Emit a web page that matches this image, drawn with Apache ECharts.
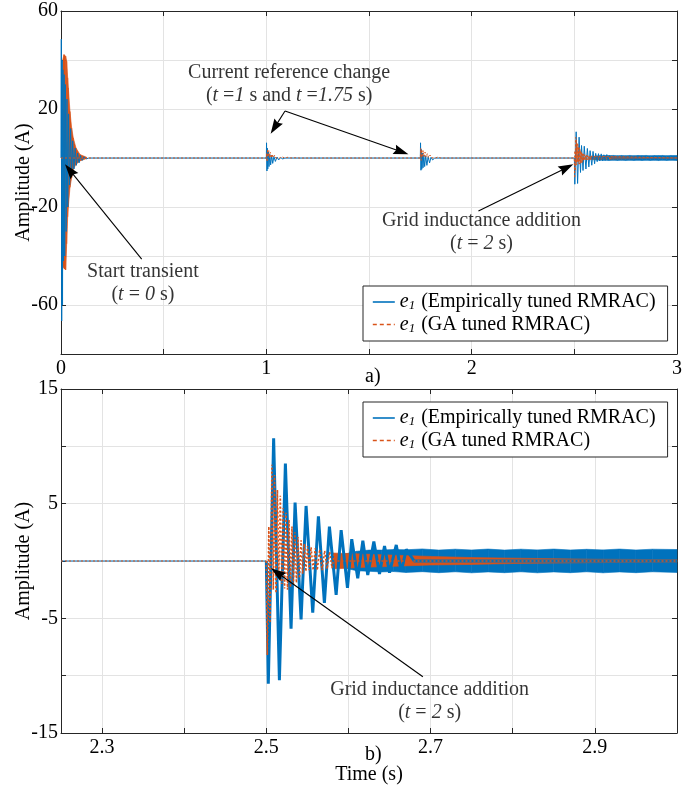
<!DOCTYPE html>
<html>
<head>
<meta charset="utf-8">
<script src="https://cdn.jsdelivr.net/npm/echarts@6/dist/echarts.min.js"></script>
<style>
  html, body { margin: 0; padding: 0; background: #fff; }
  #chart { width: 697px; height: 789px; }
</style>
</head>
<body>
<div id="chart"></div>
<script>
// ---- values: time (s), amplitude (A) ----
const NAME_B = 'e1 (Empirically tuned RMRAC)';
const NAME_O = 'e1 (GA tuned RMRAC)';

// start transient (t = 0)
const startBlue = [[0,0],[0.0015,48.5],[0.0035,-66.5],[0.0055,40],[0.0075,-60],[0.0095,36],[0.012,-42],[0.015,34],
  [0.018,-40],[0.021,30],[0.025,-30],[0.029,24],[0.033,-20],[0.037,18],[0.042,-11],[0.047,12],[0.052,-7],[0.057,7],
  [0.063,-4.5],[0.069,4],[0.075,-3],[0.081,2],[0.088,-2],[0.095,1],[0.103,-1],[0.112,0.5],[0.122,-0.4],[0.135,0]];
// dense orange burst: [t, lower envelope, upper envelope]
const startOrangeEnv = [[0.0083,-44,40],[0.0146,-45,42.2],[0.0227,-45.7,41.5],[0.0276,-35,39.5],[0.0325,-24,32.7],
  [0.0357,-20,28.6],[0.0438,-12,19],[0.052,-8,12.2],[0.060,-4.6,8.2],[0.073,-2.6,4.1],[0.0925,-1.2,1.4],[0.125,-0.2,0.3]];

// reference change at t = 1 s
const step1Blue = [[1,0],[1.001,6.2],[1.003,-5.3],[1.005,4],[1.007,-4.5],[1.010,2.5],[1.013,-3.5],[1.017,1.5],[1.021,-2.8],
  [1.026,1],[1.031,-2.2],[1.037,0.6],[1.044,-1.4],[1.052,0.4],[1.06,-0.8],[1.07,0.2],[1.08,-0.4],[1.09,0]];
const step1Orange = [[1,0],[1.002,2],[1.004,-1.5],[1.006,3.6],[1.009,0.5],[1.012,3],[1.015,0.2],[1.019,2.3],[1.023,0],
  [1.028,1.6],[1.033,0.1],[1.04,1.2],[1.047,0],[1.056,0.8],[1.065,0],[1.075,0.5],[1.09,0],[1.105,0.3],[1.12,0],[1.14,0.1],[1.16,0]];

// reference change at t = 1.75 s
const step2Blue = [[1.75,0],[1.751,6.2],[1.753,-5],[1.755,3.5],[1.757,-4.6],[1.76,2],[1.763,-4],[1.767,1.2],[1.771,-3.5],
  [1.776,0.8],[1.782,-3],[1.788,0.5],[1.795,-2],[1.802,0.3],[1.81,-0.8],[1.82,0]];
const step2Orange = [[1.75,0],[1.752,4],[1.754,-1],[1.757,3.5],[1.76,0.3],[1.764,3],[1.768,0.5],[1.773,2.4],[1.778,0.3],
  [1.784,1.8],[1.79,0.2],[1.797,1.2],[1.805,0.1],[1.814,0.8],[1.824,0],[1.835,0.4],[1.85,0]];

// grid inductance addition (shown at t = 2.5 on the time axis)
const gridFlat = [[2.25,0],[2.5,0]];
const gridBlue = [[2.5,0],[2.5024,-10.7],[2.5089,10.7],[2.5159,-10.4],[2.5232,8.5],[2.5301,-5.9],[2.535,5.1],
  [2.5423,-5.1],[2.5484,4.8],[2.5565,-4.5],[2.5634,3.9],[2.5707,-3.65],[2.5768,3.0],[2.585,-2.95],[2.5911,2.7],
  [2.5988,-2.35],[2.604,1.9],[2.6113,-1.5],[2.6175,1.77],[2.6235,-1.22],[2.6309,1.69],[2.6378,-1.13],[2.6439,1.31],
  [2.65,-1.02],[2.6582,1.4],[2.6642,-0.93],[2.6704,1.02],[2.68,0],[3.0,0]];
const gridBlueBand = [[2.595,-0.6,0.6],[2.61,-0.85,0.85],[2.625,-0.9,0.95],[2.64,-0.95,0.95],[2.655,-0.92,1.0],
  [2.67,-1.0,0.98],[2.69,-0.93,1.05],[2.71,-1.02,0.95],[2.73,-0.94,1.03],[2.75,-1.03,0.96],[2.77,-0.95,1.04],
  [2.79,-1.02,0.95],[2.81,-0.94,1.03],[2.83,-1.03,0.97],[2.85,-0.95,1.04],[2.87,-1.02,0.96],[2.89,-0.94,1.02],
  [2.91,-1.03,0.97],[2.93,-0.95,1.04],[2.95,-1.02,0.96],[2.97,-0.94,1.03],[3.0,-1.0,1.0]];
const gridOrange = [[2.5,0],[2.5012,-8.2],[2.503,3.0],[2.5045,-5.4],[2.5068,8.4],[2.5085,-2.5],[2.51,7.5],
  [2.5118,-2.8],[2.5135,6.2],[2.5152,-1.5],[2.517,5.7],[2.5188,-2.0],[2.5205,4.6],[2.5222,-2.4],[2.524,4.2],
  [2.5258,-2.5],[2.5276,3.6],[2.5294,-2.3],[2.5312,3.0],[2.533,-2.0],[2.5348,2.5],[2.5366,-1.9],[2.5385,2.1],
  [2.5404,-1.5],[2.5423,1.8],[2.5442,-1.1],[2.5462,1.5],[2.5482,-0.9],[2.5502,1.3],[2.5522,-0.8],[2.5545,1.2],
  [2.557,-0.8],[2.5595,1.1],[2.562,-0.8],[2.565,1.0],[2.568,-0.8],[2.571,0.9],[2.574,-0.7],[2.577,0.8],[2.58,-0.6],
  [2.583,0.7],[2.586,0],[3.0,0]];
const gridOrangeBand = [[2.58,-0.7,0.7],[2.62,-0.55,0.6],[2.66,-0.45,0.5],[2.70,-0.35,0.4],[2.75,-0.3,0.3],
  [2.80,-0.22,0.25],[2.85,-0.18,0.2],[2.90,-0.14,0.15],[3.0,-0.1,0.12]];

// axes
const xLabelsA = [0, 1, 2, 3];
const yLabelsA = [60, 20, -20, -60];
const xTicksB = [2.3, 2.4, 2.5, 2.6, 2.7, 2.8, 2.9];
const xLabelsB = [2.3, 2.5, 2.7, 2.9];
const yLabelsB = [15, 5, -5, -15];

// annotations: text anchor (t, A) with rich text, arrows [from, tip]
const notesA = [
  [[0.399, -51.2], '{n|Start transient}\n{n|(}{i|t}{n| = }{i|0}{n| s)}'],
  [[1.111, 30.2], '{n|Current reference change}\n{n|(}{i|t}{n| =}{i|1}{n| s and }{i|t}{n| =}{i|1.75}{n| s)}'],
  [[2.048, -30.2], '{n|Grid inductance addition}\n{n|(}{i|t}{n| = }{i|2}{n| s)}']
];
const arrowsA = [
  [0.393, -41.3, 0.0195, -2.6],
  [1.091, 19.2, 1.021, 9.9],
  [1.091, 19.2, 1.692, 1.5],
  [2.033, -21.6, 2.495, -2.6]
];
const notesB = [
  [[2.6988, -12.2], '{n|Grid inductance addition}\n{n|(}{i|t}{n| = }{i|2}{n| s)}']
];
const arrowsB = [
  [2.6906, -10.1, 2.5057, -0.64]
];

// ---- styling ----
const BLUE = '#0072BD', ORANGE = '#D95319', AX = '#262626', INK = '#000', GRIDC = '#e3e3e3';
const FONT = 'Liberation Serif';
const richText = {
  n: { fontFamily: FONT, fontSize: 20, color: INK, lineHeight: 23 },
  i: { fontFamily: FONT, fontSize: 20, color: INK, lineHeight: 23, fontStyle: 'italic' }
};

function pick(list) {
  return v => (list.some(x => Math.abs(x - v) < 1e-9) ? String(v) : '');
}

function axis(kind, gi, pos, o) {
  const main = pos === 'bottom' || pos === 'left';
  return Object.assign({
    type: 'value', gridIndex: gi, position: pos,
    axisLine: { show: true, onZero: false, lineStyle: { color: AX, width: 1 } },
    axisTick: { show: true, inside: true, length: 5, lineStyle: { color: AX } },
    axisLabel: { show: main, fontFamily: FONT, fontSize: 20, color: INK, margin: kind === 'x' ? 5 : 3 },
    splitLine: { show: main, lineStyle: { color: GRIDC, width: 1 } }
  }, o);
}

function bandItems(env) {
  const out = [];
  for (let i = 0; i < env.length - 1; i++) out.push(env[i].concat(env[i + 1]));
  return out;
}

function band(name, env, color, ai) {
  return {
    type: 'custom', name: name, xAxisIndex: ai, yAxisIndex: ai, silent: true, animation: false,
    data: bandItems(env), encode: { x: [0, 3], y: [1, 2, 4, 5] },
    renderItem: (params, api) => {
      const a = api.coord([api.value(0), api.value(2)]);
      const b = api.coord([api.value(3), api.value(5)]);
      const c = api.coord([api.value(3), api.value(4)]);
      const d = api.coord([api.value(0), api.value(1)]);
      return { type: 'polygon', shape: { points: [a, b, c, d] },
        style: { fill: color, stroke: color, lineWidth: 0.6 } };
    }
  };
}

function line(name, data, color, width, dash, ai) {
  return {
    type: 'line', name: name, xAxisIndex: ai, yAxisIndex: ai, data: data,
    showSymbol: false, symbol: 'none', silent: true, animation: false,
    lineStyle: { color: color, width: width, type: dash || 'solid' }, itemStyle: { color: color }
  };
}

function notes(list, ai) {
  return {
    type: 'scatter', xAxisIndex: ai, yAxisIndex: ai, symbolSize: 0, silent: true, animation: false, z: 5,
    data: list.map(n => ({ value: n[0], label: { formatter: n[1] } })),
    label: { show: true, position: 'inside', rich: richText }
  };
}

function arrows(list, ai) {
  return {
    type: 'custom', xAxisIndex: ai, yAxisIndex: ai, silent: true, animation: false, z: 5,
    data: list, encode: { x: [0, 2], y: [1, 3] },
    renderItem: (params, api) => {
      const p = api.coord([api.value(0), api.value(1)]);
      const q = api.coord([api.value(2), api.value(3)]);
      const dx = q[0] - p[0], dy = q[1] - p[1], len = Math.hypot(dx, dy);
      const ux = dx / len, uy = dy / len, hl = 15, hw = 5;
      const bx = q[0] - ux * hl, by = q[1] - uy * hl;
      return { type: 'group', children: [
        { type: 'line', shape: { x1: p[0], y1: p[1], x2: bx + ux * 3, y2: by + uy * 3 }, style: { stroke: '#000', lineWidth: 1.1 } },
        { type: 'polygon', shape: { points: [q, [bx - uy * hw, by + ux * hw], [bx + ux * 2, by + uy * 2], [bx + uy * hw, by - ux * hw]] },
          style: { fill: '#000' } }
      ] };
    }
  };
}

function legend(top) {
  return {
    orient: 'vertical', left: 363, top: top, selectedMode: false,
    data: [NAME_B, { name: NAME_O, lineStyle: { type: [4, 3] } }],
    itemWidth: 22, itemHeight: 12, itemGap: 2, padding: [6, 12, 6, 9],
    borderColor: AX, borderWidth: 1, backgroundColor: '#fff',
    itemStyle: { opacity: 0 }, lineStyle: { width: 1.6 },
    formatter: name => name.replace('e1', '{e|e}{s|1}'),
    textStyle: {
      fontFamily: FONT, fontSize: 20, color: INK,
      rich: {
        e: { fontFamily: FONT, fontSize: 20, fontStyle: 'italic', color: INK },
        s: { fontFamily: FONT, fontSize: 13, fontStyle: 'italic', color: INK, verticalAlign: 'bottom', padding: [8, 1, 0, 0] }
      }
    }
  };
}

const chart = echarts.init(document.getElementById('chart'), null, { renderer: 'canvas' });

chart.setOption({
  animation: false,
  textStyle: { fontFamily: FONT },
  title: [
    { text: 'a)', left: 360, top: 362, textStyle: { fontFamily: FONT, fontSize: 20, fontWeight: 'normal', color: INK } },
    { text: 'b)', left: 360, top: 740, textStyle: { fontFamily: FONT, fontSize: 20, fontWeight: 'normal', color: INK } }
  ],
  legend: [legend(286), legend(402)],
  grid: [
    { left: 61, top: 11, width: 616, height: 343, outerBoundsMode: 'none' },
    { left: 61, top: 389, width: 616, height: 344, outerBoundsMode: 'none' }
  ],
  xAxis: [
    axis('x', 0, 'bottom', { min: 0, max: 3, interval: 0.5,
      axisLabel: { show: true, fontFamily: FONT, fontSize: 20, color: INK, margin: 5, formatter: pick(xLabelsA) } }),
    axis('x', 0, 'top', { min: 0, max: 3, interval: 0.5 }),
    axis('x', 1, 'bottom', {
      min: 2.25, max: 3,
      axisTick: { show: true, inside: true, length: 5, lineStyle: { color: AX }, customValues: xTicksB },
      axisLabel: { show: true, fontFamily: FONT, fontSize: 20, color: INK, margin: 5, customValues: xLabelsB },
      name: 'Time (s)', nameLocation: 'middle', nameGap: 32, nameMoveOverlap: false,
      nameTextStyle: { fontFamily: FONT, fontSize: 20, color: INK }
    }),
    axis('x', 1, 'top', {
      min: 2.25, max: 3,
      axisTick: { show: true, inside: true, length: 5, lineStyle: { color: AX }, customValues: xTicksB }
    })
  ],
  yAxis: [
    axis('y', 0, 'left', {
      min: -80, max: 60, interval: 20,
      axisLabel: { show: true, fontFamily: FONT, fontSize: 20, color: INK, margin: 3, formatter: pick(yLabelsA) },
      name: 'Amplitude (A)', nameLocation: 'middle', nameGap: 27, nameMoveOverlap: false,
      nameTextStyle: { fontFamily: FONT, fontSize: 20, color: INK }
    }),
    axis('y', 0, 'right', { min: -80, max: 60, interval: 20 }),
    axis('y', 1, 'left', {
      min: -15, max: 15, interval: 5,
      axisLabel: { show: true, fontFamily: FONT, fontSize: 20, color: INK, margin: 3, formatter: pick(yLabelsB) },
      name: 'Amplitude (A)', nameLocation: 'middle', nameGap: 27, nameMoveOverlap: false,
      nameTextStyle: { fontFamily: FONT, fontSize: 20, color: INK }
    }),
    axis('y', 1, 'right', { min: -15, max: 15, interval: 5 })
  ],
  series: [
    // panel a
    line(NAME_B, [].concat(startBlue, step1Blue, step2Blue, gridFlat, gridBlue), BLUE, 1, null, 0),
    line(NAME_O, [].concat([[0, 0]], step1Orange, step2Orange, gridFlat, gridOrange), ORANGE, 1, [2, 2], 0),
    band(NAME_B, gridBlueBand, BLUE, 0),
    band(NAME_O, startOrangeEnv, ORANGE, 0),
    band(NAME_O, gridOrangeBand, ORANGE, 0),
    notes(notesA, 0),
    arrows(arrowsA, 0),
    // panel b
    line(NAME_B, gridFlat, BLUE, 1.2, null, 2),
    line(NAME_B, gridBlue, BLUE, 3, null, 2),
    band(NAME_B, gridBlueBand, BLUE, 2),
    line(NAME_O, gridFlat, ORANGE, 1.2, [2, 2], 2),
    line(NAME_O, gridOrange, ORANGE, 1.6, [2, 2], 2),
    band(NAME_O, gridOrangeBand, ORANGE, 2),
    notes(notesB, 2),
    arrows(arrowsB, 2)
  ]
});
</script>
</body>
</html>
